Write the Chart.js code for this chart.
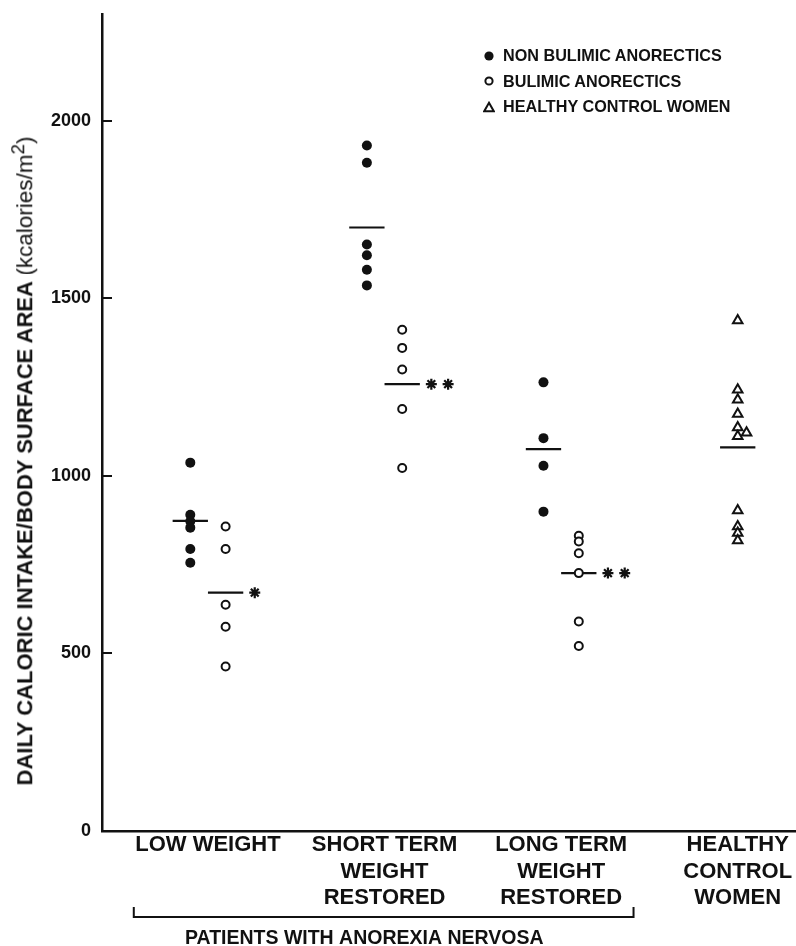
<!DOCTYPE html>
<html>
<head>
<meta charset="utf-8">
<title>Daily caloric intake / body surface area</title>
<script src="https://cdn.jsdelivr.net/npm/chart.js@4.4.1/dist/chart.umd.min.js"></script>
<style>
  html, body { margin: 0; padding: 0; background: #fff; }
  #wrap { position: relative; width: 796px; height: 946px; font-family: "Liberation Sans", Arial, sans-serif; color: #111; }
  #chart { position: absolute; left: 0; top: 0; }
  .ytitle { position: absolute; left: 22px; top: 461px; transform: translate(-50%, -50%) rotate(-90deg); white-space: nowrap; font-weight: bold; font-size: 22px; }
  .ytitle .unit { font-weight: normal; font-size: 22.5px; }
  .legend { position: absolute; left: 483px; top: 43px; font-weight: bold; font-size: 16.2px; }
  .legend .row { height: 25.5px; display: flex; align-items: center; white-space: nowrap; }
  .legend svg { margin-right: 8px; }
</style>
</head>
<body>
<div id="wrap">
  <canvas id="chart" width="796" height="946"></canvas>
  <div class="ytitle">DAILY CALORIC INTAKE/BODY SURFACE AREA <span class="unit">(kcalories/m<sup>2</sup>)</span></div>
  <div class="legend" id="legend"></div>
</div>
<script>
// groups on the x axis
const groupLabels = [
  ['LOW WEIGHT'],
  ['SHORT TERM', 'WEIGHT', 'RESTORED'],
  ['LONG TERM', 'WEIGHT', 'RESTORED'],
  ['HEALTHY', 'CONTROL', 'WOMEN']
];
const seriesNames = ['NON BULIMIC ANORECTICS', 'BULIMIC ANORECTICS', 'HEALTHY CONTROL WOMEN'];

// individual values (kcal/m2)
const nonBulimic = [
  [1037, 890, 872, 854, 794, 755],
  [1930, 1881, 1651, 1621, 1580, 1536],
  [1263, 1106, 1028, 899]
];
const bulimic = [
  [857, 794, 637, 575, 463],
  [1411, 1360, 1299, 1188, 1022],
  [831, 815, 782, 726, 590, 521]
];
const healthy = [1437, 1242, 1214, 1174, 1136, 1121, 1111, 902, 857, 839, 818];

// group means (horizontal bars)
const nonBulimicMean = [873, 1699, 1075];
const bulimicMean = [671, 1258, 726];
const healthyMean = 1080;

// significance marks next to the bulimic means
const significance = ['*', '**', '**'];

const yTicks = [0, 500, 1000, 1500, 2000];
const yMax = 2300;
const bracketGroups = [0, 2];
const bracketLabel = 'PATIENTS WITH ANOREXIA NERVOSA';

const FONT = '"Liberation Sans", Arial, sans-serif';
const INK = '#111';
const SIDE = 0.1;           // half distance between the two patient columns
const HEALTHY_X = groupLabels.length - 1;

const pts = (vals, x) => vals.map(v => ({ x: x, y: v }));

// nudge a triangle sideways when it sits between two very close neighbours
const sortedH = healthy.slice().sort((a, b) => b - a);
const healthyPts = sortedH.map((v, i) => {
  const up = i > 0 ? sortedH[i - 1] - v : Infinity;
  const dn = i < sortedH.length - 1 ? v - sortedH[i + 1] : Infinity;
  return { x: HEALTHY_X + (up <= 16 && dn <= 16 ? 0.05 : 0), y: v };
});

const meanLine = (cx, v) => ({
  data: [{ x: cx - 0.1, y: v }, { x: cx + 0.1, y: v }],
  showLine: true, borderColor: INK, borderWidth: 2.2, pointRadius: 0, fill: false
});

const starPts = [];
significance.forEach((s, g) => {
  for (let k = 0; k < s.length; k++) {
    starPts.push({ x: g + SIDE + 0.165 + k * 0.095, y: bulimicMean[g] });
  }
});

const datasets = [
  {
    label: seriesNames[1],
    data: bulimic.flatMap((vals, g) => pts(vals, g + SIDE)),
    pointStyle: 'circle', pointRadius: 4, backgroundColor: '#fff', borderColor: INK, borderWidth: 2
  },
  {
    label: seriesNames[0],
    data: nonBulimic.flatMap((vals, g) => pts(vals, g - SIDE)),
    pointStyle: 'circle', pointRadius: 5, backgroundColor: INK, borderColor: INK, borderWidth: 0
  },
  {
    label: seriesNames[2],
    data: healthyPts,
    pointStyle: 'triangle', pointRadius: 5.5, backgroundColor: '#fff', borderColor: INK, borderWidth: 2
  },
  {
    label: 'significance',
    data: starPts,
    pointStyle: 'star', pointRadius: 5.5, borderColor: INK, borderWidth: 2.2
  }
];
nonBulimicMean.forEach((m, g) => datasets.push(meanLine(g - SIDE, m)));
bulimicMean.forEach((m, g) => datasets.push(meanLine(g + SIDE, m)));
datasets.push(meanLine(HEALTHY_X, healthyMean));

// bracket under the patient groups
const bracketPlugin = {
  id: 'bracket',
  afterDraw(chart) {
    const { ctx, chartArea, scales: { x } } = chart;
    const x1 = x.getPixelForValue(bracketGroups[0] - 0.42);
    const x2 = x.getPixelForValue(bracketGroups[1] + 0.41);
    const yb = chartArea.bottom + 86;
    ctx.save();
    ctx.strokeStyle = INK;
    ctx.lineWidth = 2;
    ctx.beginPath();
    ctx.moveTo(x1, yb - 10);
    ctx.lineTo(x1, yb);
    ctx.lineTo(x2, yb);
    ctx.lineTo(x2, yb - 10);
    ctx.stroke();
    ctx.fillStyle = INK;
    ctx.font = 'bold 19.5px ' + FONT;
    ctx.textAlign = 'center';
    ctx.textBaseline = 'alphabetic';
    ctx.fillText(bracketLabel, x.getPixelForValue(0.885), chartArea.bottom + 113);
    ctx.restore();
  }
};

new Chart(document.getElementById('chart'), {
  type: 'scatter',
  data: { datasets: datasets },
  plugins: [bracketPlugin],
  options: {
    responsive: false,
    animation: false,
    layout: { autoPadding: false, padding: { top: 14, left: 0, right: 0, bottom: 0 } },
    plugins: { legend: { display: false }, tooltip: { enabled: false } },
    scales: {
      x: {
        type: 'linear', min: -0.6, max: 3.33,
        afterBuildTicks: s => { s.ticks = groupLabels.map((_, i) => ({ value: i })); },
        afterFit: s => { s.height = 115; s.paddingLeft = 0; s.paddingRight = 0; },
        grid: { display: false },
        border: { display: true, color: INK, width: 2.5 },
        ticks: {
          autoSkip: false, maxRotation: 0, minRotation: 0, padding: -7, color: INK,
          font: { family: FONT, size: 22, weight: 'bold', lineHeight: 1.2 },
          callback: v => groupLabels[Math.round(v)]
        }
      },
      y: {
        type: 'linear', min: 0, max: yMax,
        afterBuildTicks: s => { s.ticks = yTicks.map(v => ({ value: v })); },
        afterFit: s => { s.width = 102; s.paddingTop = 0; s.paddingBottom = 0; },
        grid: { drawOnChartArea: false, drawTicks: true, tickLength: -10, color: INK, lineWidth: 2 },
        border: { display: true, color: INK, width: 2.5 },
        ticks: {
          padding: 21, color: INK,
          font: { family: FONT, size: 18, weight: 'bold' },
          callback: v => String(v)
        }
      }
    }
  }
});

// legend in the upper right corner
const markers = [
  '<svg width="12" height="12"><circle cx="6" cy="6" r="4.6" fill="#111"/></svg>',
  '<svg width="12" height="12"><circle cx="6" cy="6" r="3.6" fill="none" stroke="#111" stroke-width="2"/></svg>',
  '<svg width="12" height="12"><polygon points="6,1.8 10.8,10.2 1.2,10.2" fill="none" stroke="#111" stroke-width="2"/></svg>'
];
document.getElementById('legend').innerHTML = seriesNames
  .map((n, i) => '<div class="row">' + markers[i] + n + '</div>').join('');
</script>
</body>
</html>
